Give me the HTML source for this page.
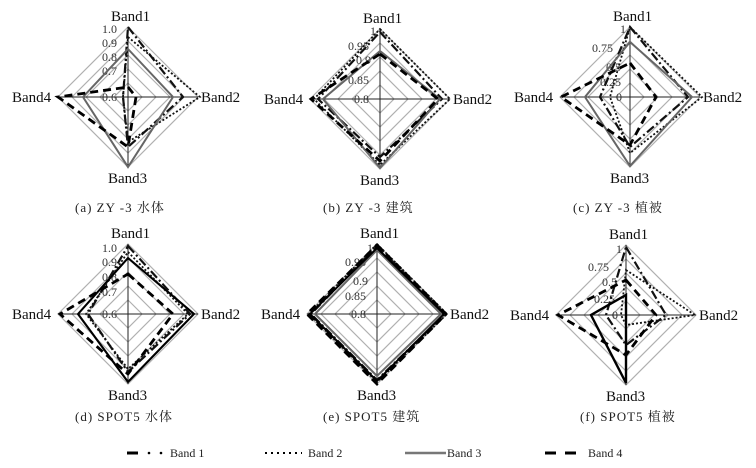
<!DOCTYPE html>
<html><head><meta charset="utf-8"><style>
html,body{margin:0;padding:0;background:#fff;}
svg{display:block;font-family:"Liberation Serif","Noto Serif CJK SC",serif;}
.g{fill:none;stroke:#b0b0b0;stroke-width:1.2}
.ax{stroke:#222;stroke-width:1}
.s1{fill:none;stroke:#111;stroke-width:2.2;stroke-dasharray:9 3 2 3}
.s2{fill:none;stroke:#111;stroke-width:1.8;stroke-dasharray:2 2}
.s3{fill:none;stroke:#666;stroke-width:2}
.s4{fill:none;stroke:#000;stroke-width:2.8;stroke-dasharray:8 5}
.lb{font-size:15px;fill:#111}
.tk{font-size:12px;fill:#333}
.cap{font-size:13px;fill:#222;letter-spacing:1px}
.lg{font-size:12px;fill:#222}
</style></head><body>
<svg width="756" height="468" viewBox="0 0 756 468">
<defs>
<g id="grid">
<polygon class="g" points="0,-14 14,0 0,14 -14,0"/>
<polygon class="g" points="0,-28 28,0 0,28 -28,0"/>
<polygon class="g" points="0,-42 42,0 0,42 -42,0"/>
<polygon class="g" points="0,-56 56,0 0,56 -56,0"/>
<polygon class="g" points="0,-70 70,0 0,70 -70,0"/>
<line class="ax" x1="0" y1="-70" x2="0" y2="70"/>
<line class="ax" x1="-70" y1="0" x2="70" y2="0"/>
<text class="lb" x="-17" y="-76">Band1</text>
<text class="lb" x="73" y="5">Band2</text>
<text class="lb" x="-20" y="86">Band3</text>
<text class="lb" x="-116" y="5">Band4</text>
</g>
</defs>

<!-- a -->
<g transform="translate(128,97)">
<use href="#grid"/>
<text class="tk" x="-26" y="-64">1.0</text><text class="tk" x="-26" y="-50">0.9</text><text class="tk" x="-26" y="-36">0.8</text><text class="tk" x="-26" y="-22">0.7</text><text class="tk" x="-26" y="4">0.6</text>
<polygon class="s1" points="0,-70 55,0 0,50 -5,0"/>
<polygon class="s2" points="0,-60 72,0 0,45 -5,0"/>
<polygon class="s3" points="0,-48 45,0 0,70 -45,0"/>
<polygon class="s4" points="0,-10 8,0 0,50 -70,0"/>
</g>
<!-- b -->
<g transform="translate(380,99)">
<use href="#grid"/>
<text class="tk" x="-10" y="-64">1</text><text class="tk" x="-32" y="-49">0.95</text><text class="tk" x="-24" y="-35">0.9</text><text class="tk" x="-32" y="-15">0.85</text><text class="tk" x="-26" y="4">0.8</text>
<polygon class="s1" points="0,-67 62,0 0,58 -62,0"/>
<polygon class="s2" points="0,-70 70,0 0,66 -66,0"/>
<polygon class="s3" points="0,-48 60,0 0,69 -57,0"/>
<polygon class="s4" points="0,-45 58,0 0,62 -69,0"/>
</g>
<!-- c -->
<g transform="translate(630,97)">
<use href="#grid"/>
<text class="tk" x="-10" y="-64">1</text><text class="tk" x="-38" y="-45">0.75</text><text class="tk" x="-24" y="-26">0.5</text><text class="tk" x="-30" y="-11">0.25</text><text class="tk" x="-14" y="4">0</text>
<polygon class="s1" points="0,-70 58,0 0,50 -30,0"/>
<polygon class="s2" points="0,-70 72,0 0,56 -20,0"/>
<polygon class="s3" points="0,-55 62,0 0,69 -45,0"/>
<polygon class="s4" points="0,-34 26,0 0,48 -69,0"/>
</g>
<!-- d -->
<g transform="translate(128,314)">
<use href="#grid"/>
<text class="tk" x="-26" y="-62">1.0</text><text class="tk" x="-26" y="-48">0.9</text><text class="tk" x="-26" y="-33">0.8</text><text class="tk" x="-26" y="-18">0.7</text><text class="tk" x="-26" y="4">0.6</text>
<polygon class="s1" points="0,-68 62,0 0,58 -40,0"/>
<polygon class="s2" points="0,-62 60,0 0,55 -42,0"/>
<polygon class="s3" points="0,-56 66,0 0,68 -50,0"/>
<polygon class="s4" points="0,-40 45,0 0,60 -68,0"/>
<polygon fill="none" stroke="#000" stroke-width="2" points="0,-56 66,0 0,68 -50,0"/>
</g>
<!-- e -->
<g transform="translate(377,314)">
<use href="#grid"/>
<text class="tk" x="-10" y="-62">1</text><text class="tk" x="-32" y="-48">0.95</text><text class="tk" x="-24" y="-29">0.9</text><text class="tk" x="-32" y="-14">0.85</text><text class="tk" x="-26" y="4">0.8</text>
<polygon class="s1" points="0,-68 68,0 0,66 -66,0"/>
<polygon class="s2" points="0,-70 70,0 0,68 -68,0"/>
<polygon class="s3" points="0,-64 64,0 0,62 -62,0"/>
<polygon class="s4" points="0,-69 69,0 0,70 -70,0"/>
<polygon fill="none" stroke="#000" stroke-width="2" points="0,-66 67,0 0,67 -67,0"/>
</g>
<!-- f -->
<g transform="translate(626,315)">
<use href="#grid"/>
<text class="tk" x="-10" y="-62">1</text><text class="tk" x="-38" y="-44">0.75</text><text class="tk" x="-24" y="-29">0.5</text><text class="tk" x="-32" y="-12">0.25</text><text class="tk" x="-14" y="4">0</text>
<polygon class="s1" points="0,-68 40,0 0,30 -20,0"/>
<polygon class="s2" points="0,-45 69,0 0,10 -5,0"/>
<polygon fill="none" stroke="#000" stroke-width="2.4" points="0,-20 0,0 0,68 -35,0"/>
<polygon class="s4" points="0,-35 30,0 0,40 -68,0"/>
</g>

<text class="cap" x="75" y="212">(a) ZY -3 水体</text>
<text class="cap" x="323" y="212">(b) ZY -3 建筑</text>
<text class="cap" x="573" y="212">(c) ZY -3 植被</text>
<text class="cap" x="75" y="421">(d) SPOT5 水体</text>
<text class="cap" x="323" y="421">(e) SPOT5 建筑</text>
<text class="cap" x="580" y="421">(f) SPOT5 植被</text>

<line x1="127" y1="453" x2="138" y2="453" stroke="#000" stroke-width="3"/>
<circle cx="149" cy="453" r="1.3" fill="#000"/><circle cx="161" cy="453" r="1.3" fill="#000"/>
<text class="lg" x="170" y="457">Band 1</text>
<line x1="265" y1="453" x2="302" y2="453" stroke="#000" stroke-width="2" stroke-dasharray="2 4"/>
<text class="lg" x="308" y="457">Band 2</text>
<line x1="405" y1="453" x2="446" y2="453" stroke="#777" stroke-width="2.5"/>
<text class="lg" x="447" y="457">Band 3</text>
<line x1="545" y1="453" x2="581" y2="453" stroke="#000" stroke-width="3" stroke-dasharray="11 9"/>
<text class="lg" x="588" y="457">Band 4</text>
</svg>
</body></html>
